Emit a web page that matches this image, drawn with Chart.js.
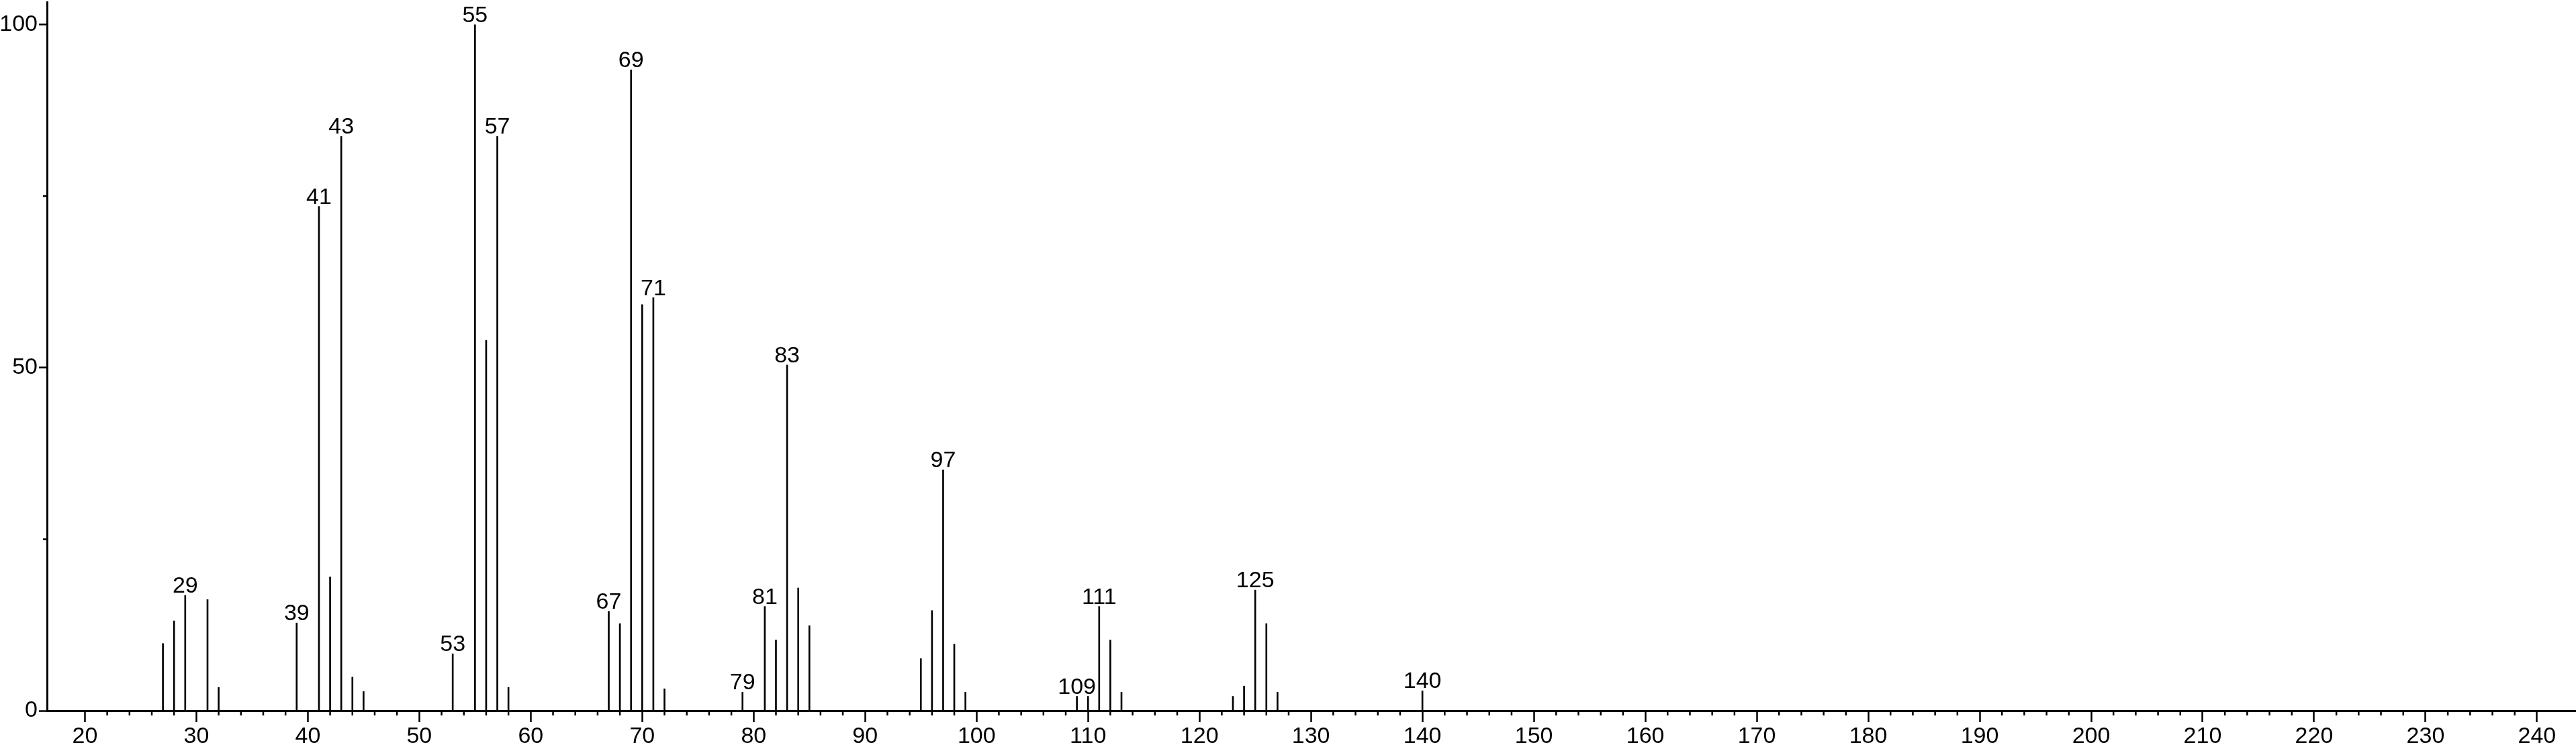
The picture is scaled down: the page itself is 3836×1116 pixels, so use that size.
<!DOCTYPE html>
<html>
<head>
<meta charset="utf-8">
<script src="https://cdn.jsdelivr.net/npm/chart.js@4.4.1/dist/chart.umd.min.js"></script>
<style>
  html, body { margin: 0; padding: 0; background: #fff; }
  canvas { display: block; }
</style>
</head>
<body>
<canvas id="spectrum" width="3836" height="1116"></canvas>
<script>
// --- mass spectrum data (m/z, relative intensity) ---
const mzValues = [27, 28, 29, 31, 32, 39, 41, 42, 43, 44, 45, 53, 55, 56, 57, 58,
  67, 68, 69, 70, 71, 72, 79, 81, 82, 83, 84, 85, 95, 96, 97, 98, 99,
  109, 110, 111, 112, 113, 123, 124, 125, 126, 127, 140];
const intensities = [9.8, 13.1, 16.8, 16.2, 3.4, 12.8, 73.5, 19.5, 83.7, 4.9, 2.8, 8.3, 100, 54.0, 83.7, 3.4,
  14.5, 12.7, 93.4, 59.2, 60.2, 3.2, 2.7, 15.2, 10.3, 50.4, 17.9, 12.4, 7.6, 14.6, 35.1, 9.7, 2.7,
  2.1, 2.1, 15.2, 10.3, 2.7, 2.1, 3.6, 17.6, 12.7, 2.7, 2.9];
const labeledPeaks = [29, 39, 41, 43, 53, 55, 57, 67, 69, 71, 79, 81, 83, 97, 109, 111, 125, 140];

const xTickValues = [20, 30, 40, 50, 60, 70, 80, 90, 100, 110, 120, 130, 140, 150, 160,
  170, 180, 190, 200, 210, 220, 230, 240];
const yTickValues = [0, 50, 100];
const yMinorTicks = [25, 75];
const xMinorTicks = [];
for (let v = 22; v <= 238; v += 2) if (v % 10) xMinorTicks.push(v);

const FONT = '"Liberation Sans", Arial, sans-serif';
const FONT_PX = 34;

// peak labels above the sticks
const peakLabels = {
  id: 'peakLabels',
  afterDatasetsDraw(chart) {
    const ctx = chart.ctx;
    const meta = chart.getDatasetMeta(0);
    ctx.save();
    ctx.fillStyle = '#000';
    ctx.font = FONT_PX + 'px ' + FONT;
    ctx.textAlign = 'center';
    ctx.textBaseline = 'alphabetic';
    labeledPeaks.forEach(mz => {
      const bar = meta.data[mzValues.indexOf(mz)];
      if (bar) ctx.fillText(String(mz), bar.x, bar.y - 4);
    });
    ctx.restore();
  }
};

// short unlabeled ticks
const minorTicks = {
  id: 'minorTicks',
  afterDraw(chart) {
    const { ctx, chartArea, scales } = chart;
    ctx.save();
    ctx.strokeStyle = '#000';
    ctx.lineWidth = 2.5;
    ctx.beginPath();
    xMinorTicks.forEach(v => {
      const px = scales.x.getPixelForValue(v);
      ctx.moveTo(px, chartArea.bottom);
      ctx.lineTo(px, chartArea.bottom + 7);
    });
    yMinorTicks.forEach(v => {
      const py = scales.y.getPixelForValue(v);
      ctx.moveTo(chartArea.left, py);
      ctx.lineTo(chartArea.left - 6, py);
    });
    ctx.stroke();
    ctx.restore();
  }
};

new Chart(document.getElementById('spectrum'), {
  type: 'bar',
  data: {
    datasets: [{
      data: mzValues.map((m, i) => ({ x: m, y: intensities[i] })),
      backgroundColor: '#000',
      borderWidth: 0,
      barThickness: 2
    }]
  },
  options: {
    responsive: false,
    animation: false,
    devicePixelRatio: 1,
    layout: { padding: { top: 3, right: 0, bottom: 0, left: 0 } },
    plugins: { legend: { display: false }, tooltip: { enabled: false } },
    scales: {
      x: {
        type: 'linear',
        min: 16.6,
        max: 243.5,
        offset: false,
        afterBuildTicks: axis => { axis.ticks = xTickValues.map(v => ({ value: v })); },
        afterFit: axis => { axis.height = 57; axis.paddingLeft = 0; axis.paddingRight = 0; },
        border: { color: '#000', width: 3 },
        grid: { display: true, offset: false, drawOnChartArea: false, drawTicks: true,
                tickLength: 17, tickWidth: 2.5, tickColor: '#000', color: '#000' },
        ticks: { color: '#000', font: { family: FONT, size: FONT_PX }, padding: 1,
                 autoSkip: false, maxRotation: 0 }
      },
      y: {
        min: 0,
        max: 103.3,
        afterBuildTicks: axis => { axis.ticks = yTickValues.map(v => ({ value: v })); },
        afterFit: axis => { axis.width = 70; axis.paddingTop = 0; axis.paddingBottom = 0; },
        border: { color: '#000', width: 3 },
        grid: { display: true, drawOnChartArea: false, drawTicks: true,
                tickLength: 12, tickWidth: 2.5, tickColor: '#000', color: '#000' },
        ticks: { color: '#000', font: { family: FONT, size: FONT_PX }, padding: 2 }
      }
    }
  },
  plugins: [peakLabels, minorTicks]
});
</script>
</body>
</html>
